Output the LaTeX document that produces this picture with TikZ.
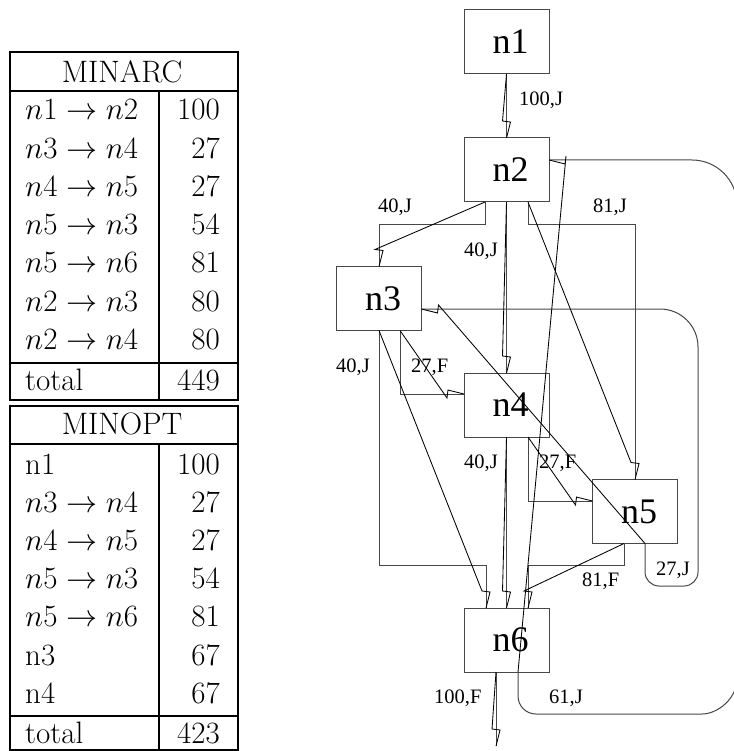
\RequirePackage{fix-cm}
\documentclass[tikz,border=0pt]{standalone}
\usepackage{fontspec}
\newfontfamily\tnrfam{Liberation Serif}
\newcommand\gnodefont{\tnrfam\fontsize{36}{42}\selectfont}
\newcommand\glabfont{\tnrfam\fontsize{20.5}{24}\selectfont}
\newcommand\gtabfont{\fontsize{31}{36}\selectfont}
\definecolor{boxgray}{gray}{0.28}
\newcommand\zdn[2]{\draw[edge] (#1) -- ([shift={(-4,-17)}]#2) -- ([shift={(4,-16)}]#2) -- (#2);}
\newcommand\zrt[2]{\draw[edge] (#1) -- ([shift={(-17,4)}]#2) -- ([shift={(-16,-4)}]#2) -- (#2);}
\newcommand\zlt[2]{\draw[edge] (#1) -- ([shift={(17,-4)}]#2) -- ([shift={(16,4)}]#2) -- (#2);}
\begin{document}
\begin{tikzpicture}[x=1pt,y=-1pt,
  box/.style={draw=boxgray,line width=1pt,rectangle,minimum width=85pt,minimum height=64pt,inner sep=0pt,outer sep=0pt,font=\gnodefont},
  route/.style={draw=boxgray,line width=1pt},
  edge/.style={draw=black,line width=0.85pt},
  elabel/.style={anchor=base west,inner sep=0pt,font=\glabfont},
  tab/.style={line width=2.2pt},
  tcell/.style={inner sep=0pt,font=\gtabfont}]
\useasboundingbox[fill=white] (0,0) rectangle (733,751);

% ---------- tables ----------
\draw[tab] (10,52) rectangle (238,400);
\draw[tab] (10,91) -- (238,91);
\draw[tab] (159,91) -- (159,400);
\draw[tab] (10,363) -- (238,363);
\node[tcell,anchor=base] (ha) at (122,82.5) {MINARC};
\node[tcell,anchor=base west] (a1l) at (25,120) {$n1\rightarrow n2$};
\node[tcell,anchor=base east] (a1r) at (220,120) {100};
\node[tcell,anchor=base west] (a2l) at (25,158.2) {$n3\rightarrow n4$};
\node[tcell,anchor=base east] (a2r) at (220,158.2) {27};
\node[tcell,anchor=base west] (a3l) at (25,196.4) {$n4\rightarrow n5$};
\node[tcell,anchor=base east] (a3r) at (220,196.4) {27};
\node[tcell,anchor=base west] (a4l) at (25,234.6) {$n5\rightarrow n3$};
\node[tcell,anchor=base east] (a4r) at (220,234.6) {54};
\node[tcell,anchor=base west] (a5l) at (25,272.8) {$n5\rightarrow n6$};
\node[tcell,anchor=base east] (a5r) at (220,272.8) {81};
\node[tcell,anchor=base west] (a6l) at (25,311) {$n2\rightarrow n3$};
\node[tcell,anchor=base east] (a6r) at (220,311) {80};
\node[tcell,anchor=base west] (a7l) at (25,349.2) {$n2\rightarrow n4$};
\node[tcell,anchor=base east] (a7r) at (220,349.2) {80};
\node[tcell,anchor=base west] (atl) at (25,390.5) {total};
\node[tcell,anchor=base east] (atr) at (220,390.5) {449};

\draw[tab] (10,406) rectangle (238,750);
\draw[tab] (10,444) -- (238,444);
\draw[tab] (159,444) -- (159,750);
\draw[tab] (10,716) -- (238,716);
\node[tcell,anchor=base] (hb) at (122,434.5) {MINOPT};
\node[tcell,anchor=base west] (b1l) at (25,474) {n1};
\node[tcell,anchor=base east] (b1r) at (220,474) {100};
\node[tcell,anchor=base west] (b2l) at (25,512.2) {$n3\rightarrow n4$};
\node[tcell,anchor=base east] (b2r) at (220,512.2) {27};
\node[tcell,anchor=base west] (b3l) at (25,550.4) {$n4\rightarrow n5$};
\node[tcell,anchor=base east] (b3r) at (220,550.4) {27};
\node[tcell,anchor=base west] (b4l) at (25,588.6) {$n5\rightarrow n3$};
\node[tcell,anchor=base east] (b4r) at (220,588.6) {54};
\node[tcell,anchor=base west] (b5l) at (25,626.8) {$n5\rightarrow n6$};
\node[tcell,anchor=base east] (b5r) at (220,626.8) {81};
\node[tcell,anchor=base west] (b6l) at (25,665) {n3};
\node[tcell,anchor=base east] (b6r) at (220,665) {67};
\node[tcell,anchor=base west] (b7l) at (25,703.2) {n4};
\node[tcell,anchor=base east] (b7r) at (220,703.2) {67};
\node[tcell,anchor=base west] (btl) at (25,743.5) {total};
\node[tcell,anchor=base east] (btr) at (220,743.5) {423};

% ---------- graph nodes ----------
\node[box] (n1) at (506.5,42) {\kern8pt n1};
\node[box] (n2) at (506.5,170) {\kern8pt n2};
\node[box] (n3) at (379,298.5) {\kern8pt n3};
\node[box] (n4) at (506.5,405) {\kern8pt n4};
\node[box] (n5) at (635,511.5) {\kern8pt n5};
\node[box] (n6) at (506.5,640) {\kern8pt n6};

\coordinate (s23) at ([shift={(-21.5,0)}]n2.south);
\coordinate (s25) at ([shift={(21.5,0)}]n2.south);
\coordinate (s34) at ([shift={(21,0)}]n3.south);
\coordinate (t34) at ([shift={(0,-11)}]n4.west);
\coordinate (t36) at ([shift={(-20.5,0)}]n6.north);
\coordinate (s45) at ([shift={(21.5,0)}]n4.south);
\coordinate (t45) at ([shift={(0,-10.5)}]n5.west);
\coordinate (s56) at ([shift={(-11,0)}]n5.south);
\coordinate (t56) at ([shift={(21.5,0)}]n6.north);
\coordinate (s53) at ([shift={(10,0)}]n5.south);
\coordinate (t53) at ([shift={(0,10.5)}]n3.east);
\coordinate (s62) at ([shift={(11.5,0)}]n6.south);
\coordinate (t62) at ([shift={(0,-10)}]n2.east);
\coordinate (s6o) at ([shift={(-10.5,0)}]n6.south);
\coordinate (out) at (496,746);

% ---------- orthogonal routes ----------
\draw[route] (n1.south) -- (n2.north);
\draw[route] (s23) -- ++(0,22) -| (n3.north);
\draw[route] (n2.south) -- (n4.north);
\draw[route] (s25) -- ++(0,22) -| (n5.north);
\draw[route] (s34) |- (t34);
\draw[route] (n3.south) -- (379,565) -| (t36);
\draw[route] (n4.south) -- (n6.north);
\draw[route] (s45) |- (t45);
\draw[route] (s56) -- ++(0,22) -| (t56);
\draw[route] (s53) -- (645,572) .. controls (645,579.7) and (651.3,586) .. (659,586)
  -- (684,586) .. controls (691.7,586) and (698,579.7) .. (698,572)
  -- (698,347) .. controls (698,326) and (681,309) .. (660,309) -- (t53);
\draw[route] (s62) -- (518,696) .. controls (518,706) and (526,714) .. (536,714)
  -- (702,714) .. controls (717.7,714) and (737,698.3) .. (737,679)
  -- (737,205) .. controls (737,180.2) and (716.8,160) .. (692,160) -- (t62);
\draw[route] (s6o) -- (out);

% ---------- straight edges with zig-zag heads ----------
\zdn{n1.south}{n2.north}
\zdn{s23}{n3.north}
\zdn{n2.south}{n4.north}
\zdn{s25}{n5.north}
\zrt{s34}{t34}
\zdn{n3.south}{t36}
\zdn{n4.south}{n6.north}
\zrt{s45}{t45}
\zdn{s56}{t56}
\zlt{s53}{t53}
\zlt{s62}{t62}
\zdn{s6o}{out}

% ---------- edge labels ----------
\node[elabel] (l12) at (519,106) {100,J};
\node[elabel] (l23) at (378,212.5) {40,J};
\node[elabel] (l24) at (464,256) {40,J};
\node[elabel] (l25) at (593,212.5) {81,J};
\node[elabel] (l36) at (336,372.5) {40,J};
\node[elabel] (l34) at (411,372.5) {27,F};
\node[elabel] (l46) at (464,468) {40,J};
\node[elabel] (l45) at (539,468.5) {27,F};
\node[elabel] (l56) at (582,586) {81,F};
\node[elabel] (l53) at (656,575.5) {27,J};
\node[elabel] (l6o) at (434,703) {100,F};
\node[elabel] (l62) at (549,703) {61,J};
\end{tikzpicture}
\end{document}
